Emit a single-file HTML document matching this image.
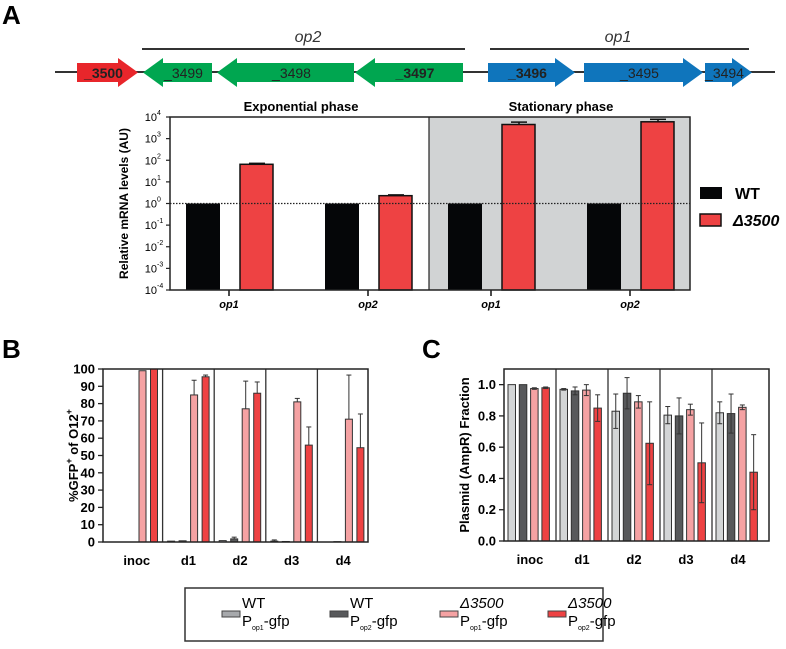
<!DOCTYPE html>
<html><head><meta charset="utf-8">
<style>
body{margin:0;background:#fff;width:786px;height:644px;overflow:hidden;font-family:"Liberation Sans",Arial,sans-serif}
svg text{font-family:"Liberation Sans",Arial,sans-serif}
</style></head>
<body>
<svg id="fig" width="786" height="644" viewBox="0 0 786 644" xmlns="http://www.w3.org/2000/svg">
<text x="2" y="24" font-size="26" font-weight="bold">A</text>
<text x="2" y="358" font-size="26" font-weight="bold">B</text>
<text x="422" y="358" font-size="26" font-weight="bold">C</text>

<g>
<line x1="55" y1="72" x2="775" y2="72" stroke="#333" stroke-width="2"/>
<line x1="142" y1="49" x2="465" y2="49" stroke="#333" stroke-width="2"/>
<text x="308" y="42" font-size="16" font-style="italic" text-anchor="middle" fill="#333">op2</text>
<line x1="490" y1="49" x2="749" y2="49" stroke="#333" stroke-width="2"/>
<text x="618" y="42" font-size="16" font-style="italic" text-anchor="middle" fill="#333">op1</text>
<g id="genes"></g>
</g>

<g id="chartA"></g>
<g id="chartB"></g>
<g id="chartC"></g>

<g>
<rect x="185" y="588" width="418" height="53" fill="#fff" stroke="#333" stroke-width="1.5"/>
<g id="legB"></g>
</g>
</svg>
<script>
const NS="http://www.w3.org/2000/svg";
function mk(parent,tag,attrs,txt){const e=document.createElementNS(NS,tag);for(const k in attrs)e.setAttribute(k,attrs[k]);if(txt!==undefined)e.textContent=txt;parent.appendChild(e);return e;}

// ---------- genes ----------
const geneNames=["_3500","_3499","_3498","_3497","_3496","_3495","_3494"];
const geneX0=[77,143,217,355,488,584,705];
const geneX1=[138,212,354,463,575,703,752];
const geneDir=[1,-1,-1,-1,1,1,1];
const geneCol=["#e8262b","#00a650","#00a650","#00a650","#0f75bc","#0f75bc","#0f75bc"];
const geneBold=[1,0,0,1,1,0,0];
const G=document.getElementById('genes');
geneNames.forEach((n,i)=>{
  const a=geneX0[i],b=geneX1[i],h=20,yt=63,yb=82,ht=58,hb=87,ym=72.5;
  let pts;
  if(geneDir[i]>0){const hx=b-h;pts=`${a},${yt} ${hx},${yt} ${hx},${ht} ${b},${ym} ${hx},${hb} ${hx},${yb} ${a},${yb}`;}
  else {const hx=a+h;pts=`${b},${yt} ${hx},${yt} ${hx},${ht} ${a},${ym} ${hx},${hb} ${hx},${yb} ${b},${yb}`;}
  const p=mk(G,'polygon',{points:pts,fill:geneCol[i]});
  
  
  const t=mk(G,'text',{x:(a+b)/2+(geneDir[i]<0?6:-4),y:78,'font-size':14,'text-anchor':'middle',fill:'#222','font-weight':geneBold[i]?'bold':'normal'},n);
  
  
});

// ---------- Chart A ----------
const catsA=["op1","op2","op1","op2"];
const wtA=[1,1,1,1];
const mutA=[65,2.3,4500,6000];
const mutErrA=[72,2.5,5800,7800];
const tickExpA=[-4,-3,-2,-1,0,1,2,3,4];
(function(){
  const A=document.getElementById('chartA');
  const L=170,R=690,T=117,B=290;
  const y=v=>B-(Math.log10(v)+4)/8*(B-T);
  const centers=[229,368,491,630];
  mk(A,'rect',{x:429,y:T,width:R-429,height:B-T,fill:'#d1d3d4'});
  mk(A,'text',{x:301,y:111,'font-size':13,'font-weight':'bold','text-anchor':'middle'},"Exponential phase");
  mk(A,'text',{x:561,y:111,'font-size':13,'font-weight':'bold','text-anchor':'middle'},"Stationary phase");
  catsA.forEach((c,i)=>{
    const cx=centers[i];
    const w=mk(A,'rect',{x:cx-43,y:y(wtA[i]),width:34,height:B-y(wtA[i]),fill:'#050608'});
    
    
    mk(A,'line',{x1:cx+28,x2:cx+28,y1:y(mutA[i]),y2:y(mutErrA[i]),stroke:'#111','stroke-width':1.5});
    mk(A,'line',{x1:cx+20,x2:cx+36,y1:y(mutErrA[i]),y2:y(mutErrA[i]),stroke:'#111','stroke-width':1.5});
    const m=mk(A,'rect',{x:cx+11,y:y(mutA[i]),width:33,height:B-y(mutA[i]),fill:'#ee4243',stroke:'#111','stroke-width':1.5});
    
    
    mk(A,'line',{x1:cx,x2:cx,y1:B,y2:B+6,stroke:'#111','stroke-width':1.5});
    const t=mk(A,'text',{x:cx,y:B+18,'font-size':11,'font-weight':'bold','font-style':'italic','text-anchor':'middle'},c);
    
    
  });
  mk(A,'line',{x1:L,x2:R,y1:y(1),y2:y(1),stroke:'#222','stroke-width':1.2,'stroke-dasharray':'1.5,1.5'});
  mk(A,'rect',{x:L,y:T,width:R-L,height:B-T,fill:'none',stroke:'#222','stroke-width':1.5});
  mk(A,'line',{x1:429,x2:429,y1:T,y2:B,stroke:'#222','stroke-width':1.2});
  tickExpA.forEach(e=>{
    const yy=y(Math.pow(10,e));
    mk(A,'line',{x1:L-4,x2:L,y1:yy,y2:yy,stroke:'#222','stroke-width':1.2});
    const t=mk(A,'text',{x:L-13,y:yy+4,'font-size':11,'text-anchor':'end'},"10");
    
    
    mk(A,'text',{x:L-13,y:yy-2,'font-size':7},String(e));
  });
  const yl=mk(A,'text',{x:0,y:0,'font-size':12,'font-weight':'bold','text-anchor':'middle',transform:`translate(128,${(T+B)/2}) rotate(-90)`},"Relative mRNA levels (AU)");
  
  
  mk(A,'rect',{x:700,y:187,width:22,height:12,fill:'#050608'});
  mk(A,'text',{x:735,y:199,'font-size':16,'font-weight':'bold'},"WT");
  mk(A,'rect',{x:700,y:214,width:21,height:12,fill:'#ee4243',stroke:'#111','stroke-width':1.5});
  mk(A,'text',{x:733,y:226,'font-size':16,'font-weight':'bold','font-style':'italic'},"Δ3500");
})();

const groups=["inoc","d1","d2","d3","d4"];
const barCols=["#d3d5d6","#58595b","#f5a2a3","#ee4243"];

const bWTop1=[0,0.5,0.8,0.5,0];
const bWTop2=[0,0.7,1.8,0.3,0.2];
const bMutOp1=[99,85,77,81,71];
const bMutOp2=[100,95.5,86,56,54.5];
const bErrWTop1=[0,0,0,0.7,0];
const bErrWTop2=[0,0,1,0,0];
const bErrMutOp1=[0,8.5,16,2,25.5];
const bErrMutOp2=[0,1,6.5,10.5,19.5];
const bTicks=[0,10,20,30,40,50,60,70,80,90,100];

const cWTop1=[1.0,0.97,0.83,0.805,0.82];
const cWTop2=[1.0,0.96,0.945,0.80,0.815];
const cMutOp1=[0.975,0.965,0.89,0.84,0.855];
const cMutOp2=[0.98,0.85,0.625,0.5,0.44];
const cErrWTop1=[0,0.005,0.11,0.055,0.07];
const cErrWTop2=[0,0.025,0.1,0.115,0.125];
const cErrMutOp1=[0.005,0.035,0.04,0.035,0.015];
const cErrMutOp2=[0.005,0.085,0.265,0.255,0.24];
const cTicks=[0,0.2,0.4,0.6,0.8,1.0];

function groupChart(gid,cfg){
  const g=document.getElementById(gid);
  const {L,R,T,B,max,g0,gw,off,step,bw,series,errs,ticks,fmt,title,oneSided}=cfg;
  const y=v=>B-v/max*(B-T);
  groups.forEach((gn,gi)=>{
    const gs=g0+gi*gw;
    series.forEach((s,si)=>{
      const v=s[gi],x=gs+off+si*step;
      const r=mk(g,'rect',{x:x,y:y(v),width:bw,height:B-y(v),fill:barCols[si],stroke:'#333','stroke-width':1});
      
      
      const e=errs[si][gi];
      if(e>0){
        const cx=x+bw/2,lo=oneSided?v:v-e;
        mk(g,'line',{x1:cx,x2:cx,y1:y(lo),y2:y(v+e),stroke:'#333','stroke-width':1});
        mk(g,'line',{x1:cx-2.5,x2:cx+2.5,y1:y(v+e),y2:y(v+e),stroke:'#333','stroke-width':1});
        if(!oneSided)mk(g,'line',{x1:cx-2.5,x2:cx+2.5,y1:y(lo),y2:y(lo),stroke:'#333','stroke-width':1});
      }
    });
    if(gi>0)mk(g,'line',{x1:gs,x2:gs,y1:T,y2:B,stroke:'#333','stroke-width':1.3});
    const t=mk(g,'text',{x:gs+gw/2,y:B+23,'font-size':13,'font-weight':'bold','text-anchor':'middle'},gn);
    
    
  });
  mk(g,'rect',{x:L,y:T,width:R-L,height:B-T,fill:'none',stroke:'#222','stroke-width':1.5});
  ticks.forEach(v=>{
    mk(g,'line',{x1:L-5,x2:L,y1:y(v),y2:y(v),stroke:'#222','stroke-width':1.3});
    const t=mk(g,'text',{x:L-8,y:y(v)+4.5,'font-size':13,'font-weight':'bold','text-anchor':'end'},fmt(v));
    
    
  });
  const yl=mk(g,'text',{x:0,y:0,'font-size':13,'font-weight':'bold','text-anchor':'middle',transform:`translate(${cfg.ylx},${(T+B)/2}) rotate(-90)`});
  yl.innerHTML=title;
  
  
}
groupChart('chartB',{L:103,R:368,T:369,B:542,max:100,g0:111,gw:51.6,off:5,step:11.5,bw:7,
  series:[bWTop1,bWTop2,bMutOp1,bMutOp2],errs:[bErrWTop1,bErrWTop2,bErrMutOp1,bErrMutOp2],
  ticks:bTicks,fmt:v=>String(v),oneSided:true,ylx:78,
  title:'%GFP<tspan dy="-6" font-size="9">+</tspan><tspan dy="6"> of O12</tspan><tspan dy="-6" font-size="9">+</tspan>'});
groupChart('chartC',{L:504,R:769,T:369,B:541,max:1.1,g0:504,gw:52,off:4,step:11.3,bw:7.5,
  series:[cWTop1,cWTop2,cMutOp1,cMutOp2],errs:[cErrWTop1,cErrWTop2,cErrMutOp1,cErrMutOp2],
  ticks:cTicks,fmt:v=>v.toFixed(1),oneSided:false,ylx:469,
  title:'Plasmid (AmpR) Fraction'});

const legLine1=["WT","WT","Δ3500","Δ3500"];
const legSub=["op1","op2","op1","op2"];
const legX=[222,330,440,548];
const LG=document.getElementById('legB');
legX.forEach((x,i)=>{
  const s=mk(LG,'rect',{x:x,y:611,width:18,height:6,fill:i==0?'#a7a9ac':barCols[i],stroke:'#444','stroke-width':1});
  
  
  const t1=mk(LG,'text',{x:x+20,y:608,'font-size':15,'font-style':i>1?'italic':'normal'},legLine1[i]);
  
  
  const t2=mk(LG,'text',{x:x+20,y:626,'font-size':15});
  t2.innerHTML='P<tspan dy="4" font-size="7">'+legSub[i]+'</tspan><tspan dy="-4">-gfp</tspan>';
});
</script>
</body></html>
